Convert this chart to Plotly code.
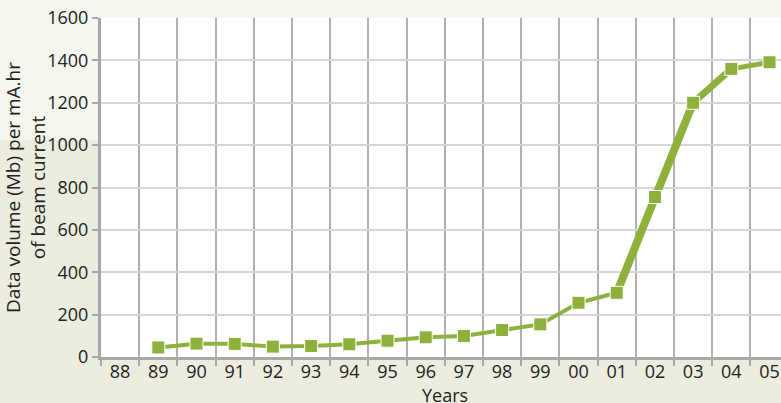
import plotly.graph_objects as go

# Years shown on the category axis (two-digit labels)
years = ["88", "89", "90", "91", "92", "93", "94", "95", "96", "97",
         "98", "99", "00", "01", "02", "03", "04", "05"]
# Data volume (Mb) per mA.hr of beam current; no value for 88
volume = [None, 45, 63, 62, 49, 52, 60, 77, 93, 99,
          127, 154, 256, 303, 755, 1200, 1360, 1391]
y_ticks = [0, 200, 400, 600, 800, 1000, 1200, 1400, 1600]

GREEN = "#8db13c"
W, H = 781, 403
L, T, B = 101, 18, 46

fig = go.Figure()

# line drawn in segments: thinner before 2001, heavier during the ramp-up
segments = [(1, 13, 4), (13, 15, 8), (15, 16, 7), (16, 17, 5)]
for i0, i1, w in segments:
    fig.add_trace(go.Scatter(
        x=years[i0:i1 + 1], y=volume[i0:i1 + 1], mode="lines",
        line=dict(color=GREEN, width=w), hoverinfo="skip", showlegend=False))

fig.add_trace(go.Scatter(
    x=years, y=volume, mode="markers",
    marker=dict(symbol="square", size=13, color=GREEN,
                line=dict(color="white", width=1)),
    showlegend=False))

font = dict(family="Open Sans, sans-serif", size=18, color="#222222")
title_font = dict(family="Open Sans, sans-serif", size=19, color="#222222")

fig.update_layout(
    width=W, height=H,
    margin=dict(l=L, r=0, t=T, b=B, pad=0),
    paper_bgcolor="#ecedde",
    plot_bgcolor="white",
    font=font,
    xaxis=dict(
        type="category", categoryorder="array", categoryarray=years,
        range=[-0.5, 17.3], tickson="boundaries",
        showgrid=True, gridcolor="#b0b0b4", gridwidth=2,
        ticks="outside", ticklen=6, tickwidth=2, tickcolor="#a8a8ac",
        ticklabelstandoff=-4,
        showline=True, linecolor="#a8a8ac", linewidth=3,
        zeroline=False, tickfont=font),
    yaxis=dict(
        range=[0, 1600], tickvals=y_ticks,
        showgrid=True, gridcolor="#d6d6da", gridwidth=2,
        ticks="outside", ticklen=6, tickwidth=2, tickcolor="#a8a8ac",
        showline=True, linecolor="#a8a8ac", linewidth=3,
        zeroline=False, tickfont=font,
        title=dict(text="Data volume (Mb) per mA.hr<br>of beam current",
                   font=title_font, standoff=8)),
)

# lighter band across the upper part of the page background
plot_w = W - L
plot_h = H - T - B
band_y0 = (H - B - 140) / plot_h
fig.add_shape(type="rect", xref="paper", yref="paper", layer="below",
              x0=-L / plot_w - 0.01, x1=0, y0=band_y0, y1=1,
              fillcolor="#f6f6ef", line_width=0)
fig.add_shape(type="rect", xref="paper", yref="paper", layer="below",
              x0=-L / plot_w - 0.01, x1=1.01, y0=1, y1=1 + T / plot_h + 0.01,
              fillcolor="#f6f6ef", line_width=0)

fig.add_annotation(text="Years", xref="paper", yref="paper",
                   x=(445 - L) / plot_w, y=-(395 - (H - B)) / plot_h,
                   showarrow=False, font=font, yanchor="middle")

fig.write_html("out.html")
